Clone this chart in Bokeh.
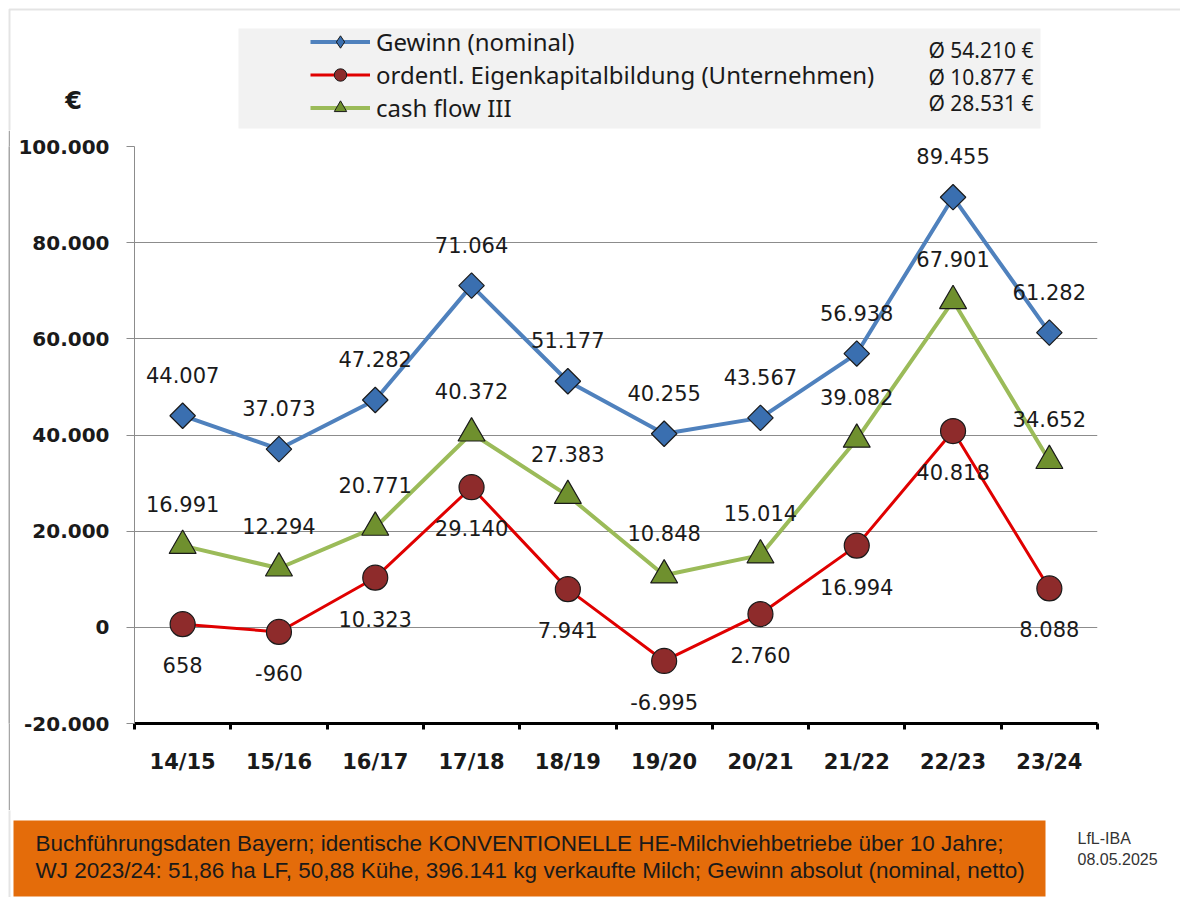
import numpy as np
from bokeh.plotting import figure
from bokeh.layouts import column, row
from bokeh.models import (ColumnDataSource, FactorRange, Range1d, CategoricalAxis, CategoricalScale,
                          FixedTicker, LabelSet, Label, BoxAnnotation, Legend, LegendItem, Spacer)
from bokeh.core.properties import value
from bokeh.embed import file_html
from bokeh.resources import INLINE

# ---------------- data ----------------
years = ["14/15", "15/16", "16/17", "17/18", "18/19", "19/20", "20/21", "21/22", "22/23", "23/24"]
gewinn = [44007, 37073, 47282, 71064, 51177, 40255, 43567, 56938, 89455, 61282]
eigenkapital = [658, -960, 10323, 29140, 7941, -6995, 2760, 16994, 40818, 8088]
cashflow = [16991, 12294, 20771, 40372, 27383, 10848, 15014, 39082, 67901, 34652]
series_names = ["Gewinn (nominal)", "ordentl. Eigenkapitalbildung (Unternehmen)", "cash flow III"]
averages = ["Ø 54.210 €", "Ø 10.877 €", "Ø 28.531 €"]
y_ticks = [-20000, 0, 20000, 40000, 60000, 80000, 100000]
y_unit = "€"
footnote_lines = [
    "Buchführungsdaten Bayern; identische KONVENTIONELLE HE-Milchviehbetriebe über 10 Jahre;",
    "WJ 2023/24: 51,86 ha LF, 50,88 Kühe, 396.141 kg verkaufte Milch; Gewinn absolut (nominal, netto)",
]
source_lines = ["LfL-IBA", "08.05.2025"]

# ---------------- styles ----------------
C_G, C_E, C_C = "#4F81BD", "#E00000", "#9BBB59"
M_G, M_E, M_C = "#3A6FB0", "#8E2B2B", "#6F902E"
TXT = "#1a1a1a"
FRAME_GRAY = "#a6a6a6"

W = 1180
H_TOP, H_MID, H_BOT = 130, 680, 87


def fmt(v):
    return f"{v:,}".replace(",", ".")


def pixel_fig(w, h, bg="white"):
    f = figure(width=w, height=h, x_range=Range1d(0, w), y_range=Range1d(h, 0),
               min_border=0, x_axis_location=None, y_axis_location=None,
               toolbar_location=None, title=None, output_backend="svg",
               background_fill_color=bg, border_fill_color=bg)
    f.outline_line_color = None
    f.grid.visible = False
    return f


# ================= top strip: legend =================
top = pixel_fig(W, H_TOP)
top.add_layout(BoxAnnotation(left=9, right=5000, top=9, bottom=5000, fill_alpha=0,
                             line_color=FRAME_GRAY, line_width=2))
top.add_layout(BoxAnnotation(left=238, right=1040, top=28, bottom=128, fill_color="#f2f2f2",
                             fill_alpha=1, line_color=None, level="underlay"))
# legend proxies (one point each, outside the visible canvas)
proxy = ColumnDataSource(dict(x=[-100], y=[-100]))
lg_l = top.line("x", "y", source=proxy, line_color=C_G, line_width=4)
lg_s = top.scatter("x", "y", source=proxy, marker="diamond",
                   fill_color=M_G, line_color=TXT, line_width=1)
le_l = top.line("x", "y", source=proxy, line_color=C_E, line_width=3)
le_s = top.scatter("x", "y", source=proxy, marker="circle",
                   fill_color=M_E, line_color=TXT, line_width=1)
lc_l = top.line("x", "y", source=proxy, line_color=C_C, line_width=4)
lc_s = top.scatter("x", "y", source=proxy, marker="triangle",
                   fill_color=M_C, line_color=TXT, line_width=1)
legend = Legend(items=[LegendItem(label=series_names[0], renderers=[lg_l, lg_s]),
                       LegendItem(label=series_names[1], renderers=[le_l, le_s]),
                       LegendItem(label=series_names[2], renderers=[lc_l, lc_s])],
                location=(310, H_TOP - 124), orientation="vertical",
                background_fill_alpha=0, border_line_color=None, padding=0, margin=0, spacing=0,
                glyph_width=60, glyph_height=31, label_height=31, label_standoff=6,
                label_text_font="Noto Sans", label_text_font_size="24px", label_text_color=TXT)
top.add_layout(legend)
for txt, yy in zip(averages, [49, 76, 102]):
    top.add_layout(Label(x=1033, y=yy, text=txt, text_align="right", text_baseline="middle",
                         text_font="Noto Sans", text_font_size="21px", text_color=TXT))
top.add_layout(Label(x=73, y=100, text=y_unit, text_align="center", text_baseline="middle",
                     text_font="DejaVu Sans", text_font_style="bold", text_font_size="24px",
                     text_color=TXT))

# ================= left frame line =================
gap = Spacer(width=8, height=H_MID)
strip = pixel_fig(2, H_MID, bg=FRAME_GRAY)

# ================= main chart =================
src = ColumnDataSource(dict(
    year=years,
    gewinn=gewinn, ek=eigenkapital, cf=cashflow,
    gewinn_lbl=[fmt(v) for v in gewinn],
    ek_lbl=[fmt(v) for v in eigenkapital],
    cf_lbl=[fmt(v) for v in cashflow],
))

p = figure(x_range=FactorRange(*years), y_range=Range1d(y_ticks[0], y_ticks[-1]),
           frame_width=963, frame_height=577,
           min_border_left=124, min_border_right=83, min_border_top=16, min_border_bottom=87,
           output_backend="svg", toolbar_location=None, x_axis_location=None, title=None,
           background_fill_color="white", border_fill_color="white")
p.outline_line_color = None

yax = p.yaxis[0]
yax.ticker = FixedTicker(ticks=y_ticks)
yax.major_label_overrides = {t: fmt(t) for t in y_ticks}
yax.axis_line_color = "#8c8c8c"
yax.major_tick_line_color = "#8c8c8c"
yax.major_tick_out = 8
yax.major_tick_in = 0
yax.minor_tick_line_color = None
yax.major_label_text_font = "DejaVu Sans"
yax.major_label_text_font_style = "bold"
yax.major_label_text_font_size = "20px"
yax.major_label_text_color = TXT
yax.major_label_standoff = 17
p.ygrid.ticker = FixedTicker(ticks=y_ticks)
p.ygrid.grid_line_color = "#8c8c8c"
p.ygrid.grid_line_width = 1
p.xgrid.visible = False

# boundary ticks: helper factor range whose factor centres sit on the category boundaries
bnd = [" " * (i + 1) for i in range(len(years) + 1)]
p.extra_x_ranges = {"bnd": FactorRange(factors=bnd, range_padding=-0.4999, range_padding_units="absolute")}
p.extra_x_scales = {"bnd": CategoricalScale()}
tick_axis = CategoricalAxis(x_range_name="bnd",
                            axis_line_color="black", axis_line_width=3,
                            major_tick_line_color="black", major_tick_line_width=3,
                            major_tick_out=6, major_tick_in=0, minor_tick_line_color=None,
                            major_label_standoff=0, major_label_text_font_size="1px")
p.add_layout(tick_axis, "below")
cat_axis = CategoricalAxis(axis_line_color=None, major_tick_line_color=None,
                           major_label_text_font="DejaVu Sans", major_label_text_font_style="bold",
                           major_label_text_font_size="21px", major_label_text_color=TXT,
                           major_label_standoff=10)
p.add_layout(cat_axis, "below")

p.line("year", "gewinn", source=src, line_color=C_G, line_width=4)
p.line("year", "ek", source=src, line_color=C_E, line_width=3)
p.line("year", "cf", source=src, line_color=C_C, line_width=4)
p.scatter("year", "gewinn", source=src, marker="square", angle=np.pi / 4, size=18,
          fill_color=M_G, line_color=TXT, line_width=1.2)
p.scatter("year", "ek", source=src, marker="circle", size=25,
          fill_color=M_E, line_color=TXT, line_width=1.2)
p.scatter("year", "cf", source=src, marker="triangle", size=27,
          fill_color=M_C, line_color=TXT, line_width=1.2)

lbl_kw = dict(source=src, text_align="center", text_baseline="middle",
              text_font=value("DejaVu Sans"), text_font_size="21px", text_color=TXT)
p.add_layout(LabelSet(x="year", y="gewinn", text="gewinn_lbl", y_offset=41, **lbl_kw))
p.add_layout(LabelSet(x="year", y="cf", text="cf_lbl", y_offset=42, **lbl_kw))
p.add_layout(LabelSet(x="year", y="ek", text="ek_lbl", y_offset=-41, **lbl_kw))

# ================= bottom strip: footnote =================
bot = pixel_fig(W, H_BOT)
bot.add_layout(BoxAnnotation(left=9, right=5000, top=-100, bottom=5000, fill_alpha=0,
                             line_color=FRAME_GRAY, line_width=2))
bot.add_layout(BoxAnnotation(left=13, right=1045, top=10, bottom=86, fill_color="#E46C0A",
                             fill_alpha=1, line_color=None, level="underlay"))
for txt, yy in zip(footnote_lines, [33, 60]):
    bot.add_layout(Label(x=35, y=yy, text=txt, text_align="left", text_baseline="middle",
                         text_font="Liberation Sans", text_font_size="22.5px", text_color=TXT))
for txt, yy in zip(source_lines, [28, 48]):
    bot.add_layout(Label(x=1077, y=yy, text=txt, text_align="left", text_baseline="middle",
                         text_font="Liberation Sans", text_font_size="16px", text_color="#333333"))

layout = column(top, row(gap, strip, p), bot)
open("out.html", "w").write(file_html(layout, INLINE))
